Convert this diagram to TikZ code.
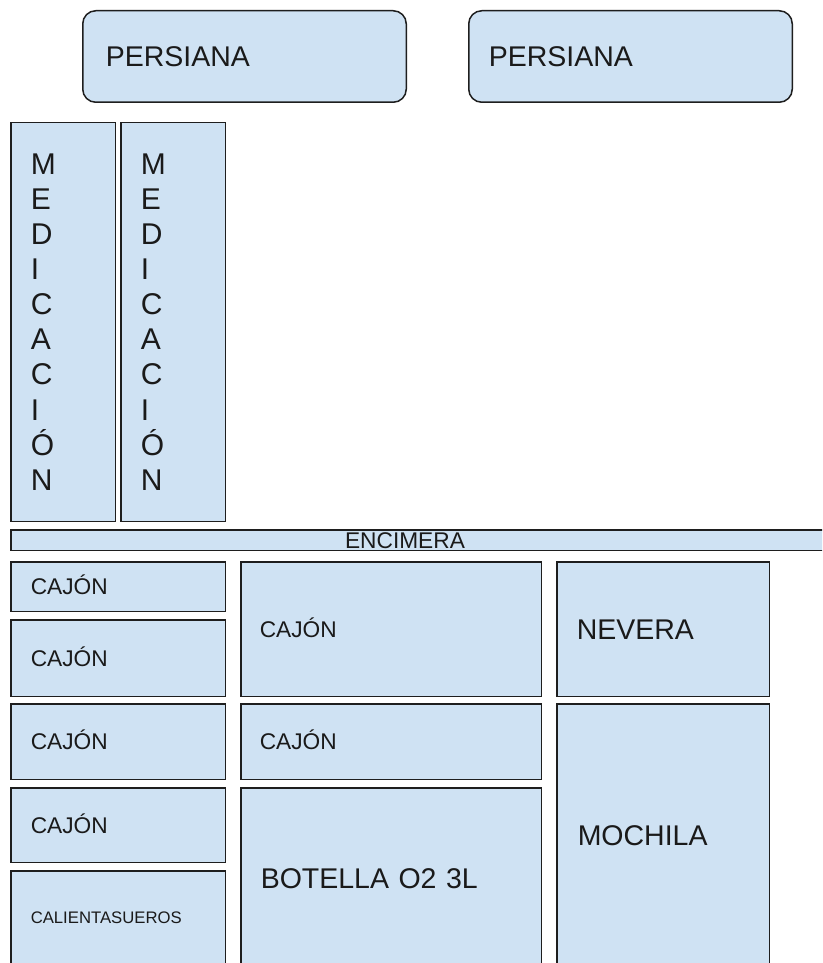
\documentclass[tikz,border=0pt]{standalone}
\usepackage{fontspec}
\setmainfont{Liberation Sans}
\definecolor{boxc}{HTML}{CFE2F3}
\definecolor{linec}{HTML}{1E1E1E}
\definecolor{txtc}{HTML}{1A1A1A}
\begin{document}
\begin{tikzpicture}[x=1pt,y=-1pt,
  box/.style={draw=linec, fill=boxc, line width=1.5pt, inner xsep=20pt, inner ysep=0pt,
    align=left, anchor=north west, text=txtc},
  fmid/.style={font=\fontsize{22.7}{26}\selectfont, text height=16.3pt, text depth=0pt},
  fbig/.style={font=\fontsize{28.5}{32}\selectfont, text height=20.4pt, text depth=0pt},
  fsmall/.style={font=\fontsize{16.7}{19}\selectfont, text height=12pt, text depth=0pt},
  fvert/.style={font=\fontsize{30}{35.1}\selectfont},
]
\useasboundingbox (0,0) rectangle (822,963);
\clip (0,0) rectangle (822,963);
\fill[white] (0,0) rectangle (822,963);

% persianas
\node[box, fbig, rounded corners=13pt, text width=277.5pt, minimum height=91.5pt, inner xsep=23pt] (p1) at (82,10) {PERSIANA};
\node[box, fbig, rounded corners=13pt, text width=283.5pt, minimum height=91.5pt] (p2) at (468,10) {PERSIANA};

% medicacion
\node[box, fvert, text width=64.5pt, minimum height=398.5pt] (m1) at (10,122)
  {\baselineskip=35.1pt M\\E\\D\\I\\C\\A\\C\\I\\Ó\\N};
\node[box, fvert, text width=64.5pt, minimum height=398.5pt] (m2) at (120,122)
  {\baselineskip=35.1pt M\\E\\D\\I\\C\\A\\C\\I\\Ó\\N};

% encimera
\node[box, minimum width=822pt, minimum height=20.5pt, inner xsep=0pt] (enc) at (10,529) {};
\node[fmid, text=txtc, inner sep=0pt] (enctxt) at (405,540) {ENCIMERA};

% left column
\node[box, fmid, text width=174.5pt, minimum height=49.5pt] (c1) at (10,561) {CAJÓN};
\node[box, fmid, text width=174.5pt, minimum height=76.5pt] (c2) at (10,619) {CAJÓN};
\node[box, fmid, text width=174.5pt, minimum height=75.5pt] (c3) at (10,703) {CAJÓN};
\node[box, fmid, text width=174.5pt, minimum height=74.5pt] (c4) at (10,787) {CAJÓN};
\node[box, fsmall, text width=174.5pt, minimum height=93.5pt] (cal) at (10,870) {CALIENTASUEROS};

% middle column
\node[box, fmid, text width=262.5pt, minimum height=134.5pt, inner xsep=19pt] (mc1) at (240,561) {CAJÓN};
\node[box, fmid, text width=262.5pt, minimum height=75.5pt, inner xsep=19pt] (mc2) at (240,703) {CAJÓN};
\node[box, fbig, text width=260.5pt, minimum height=180.5pt, inner xsep=20pt] (bot) at (240,787) {BOTELLA O2 3L};

% right column
\node[box, fbig, text width=172.5pt, minimum height=134.5pt] (nev) at (556,561) {NEVERA};
\node[box, fbig, text width=170.5pt, minimum height=262.5pt, inner xsep=21pt] (moc) at (556,703) {MOCHILA};
\end{tikzpicture}
\end{document}
